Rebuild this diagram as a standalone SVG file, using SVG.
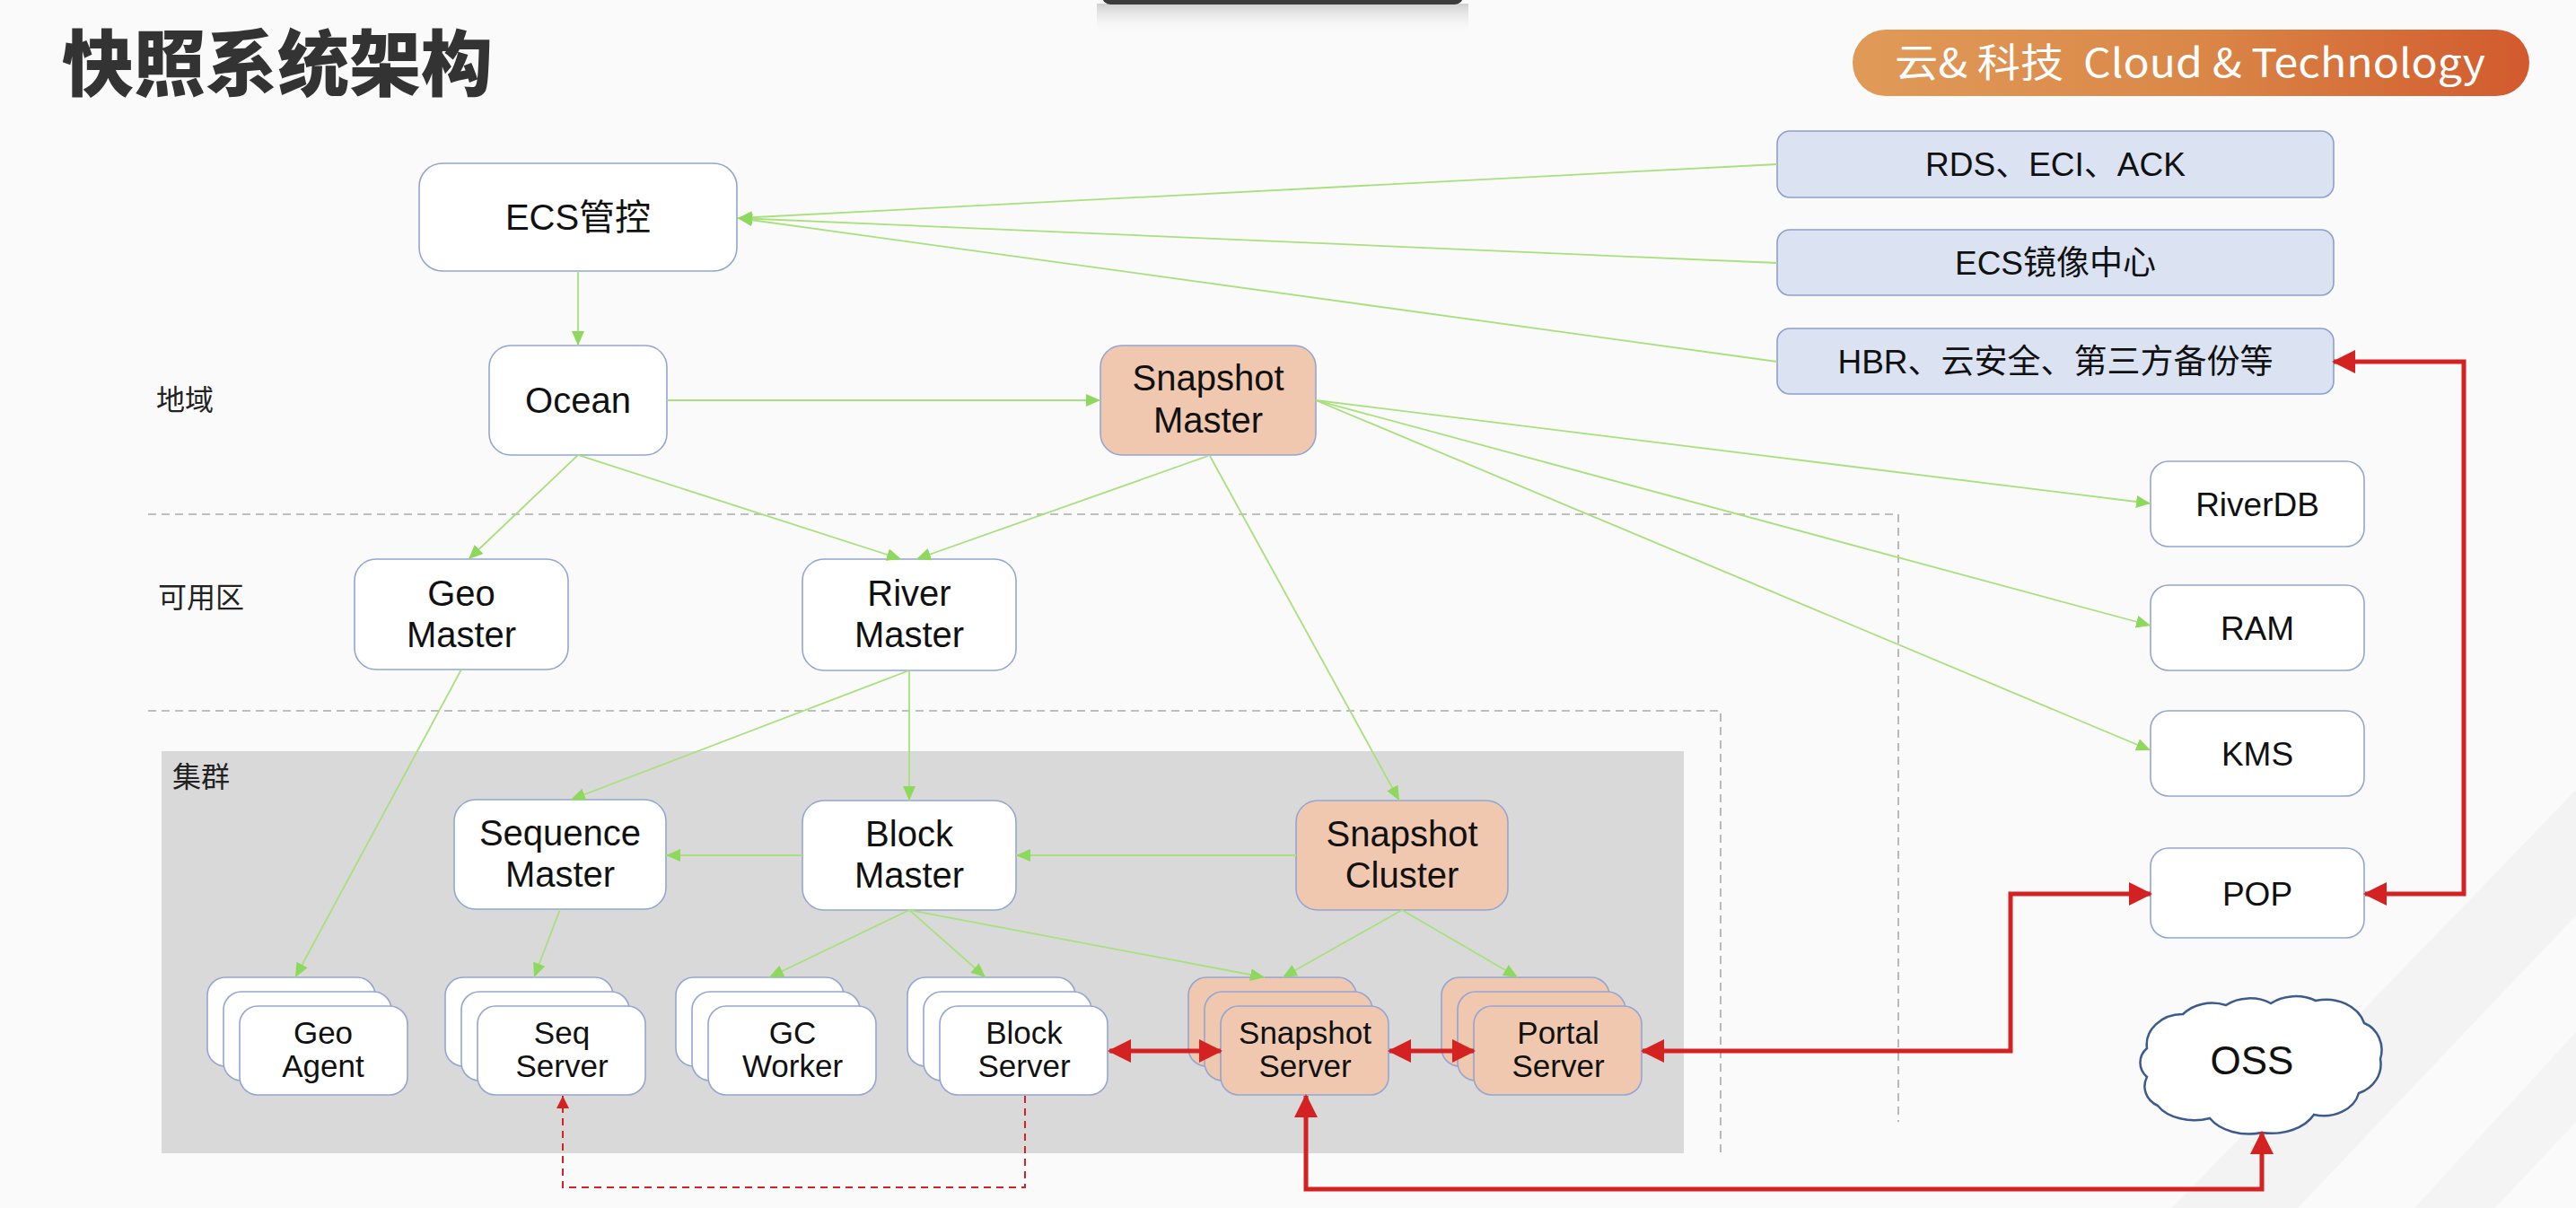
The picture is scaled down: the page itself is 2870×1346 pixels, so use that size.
<svg xmlns="http://www.w3.org/2000/svg" width="2870" height="1346" viewBox="0 0 2870 1346">
<defs>
<style>
.n{fill:#ffffff;stroke:#93a5d2;stroke-width:1.6}
.p{fill:#f0c8b0;stroke:#93a5d2;stroke-width:1.6}
.b{fill:#dbe3f3;stroke:#8c9fcd;stroke-width:1.6}
.t{font-family:"Liberation Sans","Noto Sans CJK SC",Arial,sans-serif;font-size:40px;fill:#111;text-anchor:middle}
.s{font-family:"Liberation Sans","Noto Sans CJK SC",Arial,sans-serif;font-size:35px;fill:#111;text-anchor:middle}
.r{font-family:"Liberation Sans","Noto Sans CJK SC",Arial,sans-serif;font-size:37px;fill:#111;text-anchor:middle}
.lb{font-family:"Noto Sans CJK SC",sans-serif;font-size:32px;fill:#222}
.g{fill:none;stroke:#a8e07c;stroke-width:1.8}
.red{fill:none;stroke:#d42222;stroke-width:5}
.dash{fill:none;stroke:#aaaaaa;stroke-width:1.6;stroke-dasharray:9 6}
</style>
<marker id="ga" markerUnits="userSpaceOnUse" markerWidth="16" markerHeight="14" refX="16" refY="7" orient="auto">
<path d="M0,0 L16,7 L0,14 z" fill="#8fd85e"/>
</marker>
<marker id="ra" markerUnits="userSpaceOnUse" markerWidth="26" markerHeight="26" refX="24" refY="13" orient="auto-start-reverse">
<path d="M0,0 L26,13 L0,26 z" fill="#d42222"/>
</marker>
<marker id="rs" markerUnits="userSpaceOnUse" markerWidth="14" markerHeight="14" refX="14" refY="7" orient="auto">
<path d="M0,0 L14,7 L0,14 z" fill="#d42222"/>
</marker>
<linearGradient id="badge" x1="0" y1="0" x2="1" y2="0">
<stop offset="0" stop-color="#e09a58"/>
<stop offset="0.5" stop-color="#da8848"/>
<stop offset="1" stop-color="#d25a2e"/>
</linearGradient>
<linearGradient id="shadow" x1="0" y1="0" x2="0" y2="1">
<stop offset="0" stop-color="#cfcfcf"/>
<stop offset="1" stop-color="#fafafa" stop-opacity="0"/>
</linearGradient>
</defs>

<rect x="0" y="0" width="2870" height="1346" fill="#fafafa"/>
<polygon points="2870,880 2870,1020 2560,1346 2420,1346" fill="#efefef" opacity="0.6"/>
<polygon points="2870,1150 2870,1250 2780,1346 2690,1346" fill="#f0f0f0" opacity="0.6"/>

<g id="topbar">
<rect x="1222" y="4" width="414" height="34" fill="url(#shadow)"/>
<rect x="1228" y="-20" width="402" height="25" rx="9" fill="#3b3b3b"/>
</g>

<g id="title">
<text x="69" y="100" style="font-family:'Noto Sans CJK SC',sans-serif;font-size:80px;font-weight:900;fill:#333">快照系统架构</text>
</g>

<g id="badge-tag">
<rect x="2064" y="33" width="754" height="74" rx="37" fill="url(#badge)"/>
<text x="2111" y="86" textLength="658" lengthAdjust="spacingAndGlyphs" style="font-family:'Noto Sans CJK SC',sans-serif;font-size:44px;fill:#fff;white-space:pre">云&amp; 科技  Cloud &amp; Technology</text>
</g>

<g id="zones">
<path class="dash" d="M165 573 H2115 V1250"/>
<path class="dash" d="M165 792 H1917 V1285"/>
<rect x="180" y="837" width="1696" height="448" fill="#d9d9d9"/>
<text class="lb" x="174" y="457">地域</text>
<text class="lb" x="176" y="677">可用区</text>
<text class="lb" x="192" y="877">集群</text>
</g>

<g id="node-ecs">
<rect class="n" x="467" y="182" width="354" height="120" rx="26"/>
<text class="t" x="644" y="256">ECS管控</text>
</g>
<g id="node-ocean">
<rect class="n" x="545" y="385" width="198" height="122" rx="24"/>
<text class="t" x="644" y="460">Ocean</text>
</g>
<g id="node-snapshot-master">
<rect class="p" x="1226" y="385" width="240" height="122" rx="24"/>
<text class="t" x="1346" y="435">Snapshot</text>
<text class="t" x="1346" y="482">Master</text>
</g>
<g id="node-rds">
<rect class="b" x="1980" y="146" width="620" height="74" rx="14"/>
<text class="r" x="2290" y="196">RDS、ECI、ACK</text>
</g>
<g id="node-ecs-image">
<rect class="b" x="1980" y="256" width="620" height="73" rx="14"/>
<text class="r" x="2290" y="306">ECS镜像中心</text>
</g>
<g id="node-hbr">
<rect class="b" x="1980" y="366" width="620" height="73" rx="14"/>
<text class="r" x="2290" y="416">HBR、云安全、第三方备份等</text>
</g>
<g id="node-riverdb">
<rect class="n" x="2396" y="514" width="238" height="95" rx="20"/>
<text class="r" x="2515" y="575">RiverDB</text>
</g>
<g id="node-ram">
<rect class="n" x="2396" y="652" width="238" height="95" rx="20"/>
<text class="r" x="2515" y="713">RAM</text>
</g>
<g id="node-kms">
<rect class="n" x="2396" y="792" width="238" height="95" rx="20"/>
<text class="r" x="2515" y="853">KMS</text>
</g>
<g id="node-pop">
<rect class="n" x="2396" y="945" width="238" height="100" rx="20"/>
<text class="r" x="2515" y="1009">POP</text>
</g>
<g id="node-oss">
<path d="M2392 1168 A40 34 0 0 1 2432 1130 A42 34 0 0 1 2480 1120 A40 30 0 0 1 2530 1118 A42 32 0 0 1 2580 1115 A44 36 0 0 1 2634 1140 A30 32 0 0 1 2652 1180 A36 34 0 0 1 2628 1218 A40 32 0 0 1 2578 1242 A52 36 0 0 1 2520 1262 A50 34 0 0 1 2462 1246 A46 30 0 0 1 2404 1232 A26 24 0 0 1 2392 1200 A24 22 0 0 1 2392 1168 z" fill="#ffffff" stroke="#3b5a8e" stroke-width="2.5"/>
<text x="2509" y="1197" style="font-family:'Liberation Sans',Arial,sans-serif;font-size:44px;fill:#111;text-anchor:middle">OSS</text>
</g>
<g id="node-geo-master">
<rect class="n" x="395" y="623" width="238" height="123" rx="24"/>
<text class="t" x="514" y="675">Geo</text>
<text class="t" x="514" y="721">Master</text>
</g>
<g id="node-river-master">
<rect class="n" x="894" y="623" width="238" height="124" rx="24"/>
<text class="t" x="1013" y="675">River</text>
<text class="t" x="1013" y="721">Master</text>
</g>
<g id="node-sequence-master">
<rect class="n" x="506" y="891" width="236" height="122" rx="24"/>
<text class="t" x="624" y="942">Sequence</text>
<text class="t" x="624" y="988">Master</text>
</g>
<g id="node-block-master">
<rect class="n" x="894" y="892" width="238" height="122" rx="24"/>
<text class="t" x="1013" y="943">Block</text>
<text class="t" x="1013" y="989">Master</text>
</g>
<g id="node-snapshot-cluster">
<rect class="p" x="1444" y="892" width="236" height="122" rx="24"/>
<text class="t" x="1562" y="943">Snapshot</text>
<text class="t" x="1562" y="989">Cluster</text>
</g>

<g id="node-geo-agent">
<rect class="n" x="231" y="1089" width="187" height="99" rx="20"/>
<rect class="n" x="249" y="1105" width="187" height="99" rx="20"/>
<rect class="n" x="267" y="1121" width="187" height="99" rx="20"/>
<text class="s" x="360" y="1163">Geo</text>
<text class="s" x="360" y="1200">Agent</text>
</g>
<g id="node-seq-server">
<rect class="n" x="496" y="1089" width="187" height="99" rx="20"/>
<rect class="n" x="514" y="1105" width="187" height="99" rx="20"/>
<rect class="n" x="532" y="1121" width="187" height="99" rx="20"/>
<text class="s" x="626" y="1163">Seq</text>
<text class="s" x="626" y="1200">Server</text>
</g>
<g id="node-gc-worker">
<rect class="n" x="753" y="1089" width="187" height="99" rx="20"/>
<rect class="n" x="771" y="1105" width="187" height="99" rx="20"/>
<rect class="n" x="789" y="1121" width="187" height="99" rx="20"/>
<text class="s" x="883" y="1163">GC</text>
<text class="s" x="883" y="1200">Worker</text>
</g>
<g id="node-block-server">
<rect class="n" x="1011" y="1089" width="187" height="99" rx="20"/>
<rect class="n" x="1029" y="1105" width="187" height="99" rx="20"/>
<rect class="n" x="1047" y="1121" width="187" height="99" rx="20"/>
<text class="s" x="1141" y="1163">Block</text>
<text class="s" x="1141" y="1200">Server</text>
</g>
<g id="node-snapshot-server">
<rect class="p" x="1324" y="1089" width="187" height="99" rx="20"/>
<rect class="p" x="1342" y="1105" width="187" height="99" rx="20"/>
<rect class="p" x="1360" y="1121" width="187" height="99" rx="20"/>
<text class="s" x="1454" y="1163">Snapshot</text>
<text class="s" x="1454" y="1200">Server</text>
</g>
<g id="node-portal-server">
<rect class="p" x="1606" y="1089" width="187" height="99" rx="20"/>
<rect class="p" x="1624" y="1105" width="187" height="99" rx="20"/>
<rect class="p" x="1642" y="1121" width="187" height="99" rx="20"/>
<text class="s" x="1736" y="1163">Portal</text>
<text class="s" x="1736" y="1200">Server</text>
</g>

<g id="connectors">
<path class="g" d="M644 302 L644 385" marker-end="url(#ga)"/>
<path class="g" d="M743 446 L1226 446" marker-end="url(#ga)"/>
<path class="g" d="M1980 183 L822 243" marker-end="url(#ga)"/>
<path class="g" d="M1980 293 L822 243" marker-end="url(#ga)"/>
<path class="g" d="M1980 403 L822 243" marker-end="url(#ga)"/>
<path class="g" d="M644 507 L522 623" marker-end="url(#ga)"/>
<path class="g" d="M644 507 L1004 623" marker-end="url(#ga)"/>
<path class="g" d="M1346 508 L1021 623" marker-end="url(#ga)"/>
<path class="g" d="M1348 508 L1559 892" marker-end="url(#ga)"/>
<path class="g" d="M1466 446 L2396 561" marker-end="url(#ga)"/>
<path class="g" d="M1466 446 L2396 697" marker-end="url(#ga)"/>
<path class="g" d="M1466 446 L2396 836" marker-end="url(#ga)"/>
<path class="g" d="M1013 747 L636 891" marker-end="url(#ga)"/>
<path class="g" d="M1013 747 L1013 892" marker-end="url(#ga)"/>
<path class="g" d="M514 746 L329 1089" marker-end="url(#ga)"/>
<path class="g" d="M624 1013 L595 1089" marker-end="url(#ga)"/>
<path class="g" d="M894 953 L742 953" marker-end="url(#ga)"/>
<path class="g" d="M1444 953 L1132 953" marker-end="url(#ga)"/>
<path class="g" d="M1013 1014 L857 1089" marker-end="url(#ga)"/>
<path class="g" d="M1013 1014 L1098 1089" marker-end="url(#ga)"/>
<path class="g" d="M1013 1014 L1409 1089" marker-end="url(#ga)"/>
<path class="g" d="M1562 1014 L1429 1089" marker-end="url(#ga)"/>
<path class="g" d="M1562 1014 L1691 1089" marker-end="url(#ga)"/>
<path class="red" d="M2600 403 H2745 V996 H2635" marker-start="url(#ra)" marker-end="url(#ra)"/>
<path class="red" d="M1830 1171 H2240 V996 H2396" marker-start="url(#ra)" marker-end="url(#ra)"/>
<path class="red" d="M1455 1221 V1325 H2520 V1262" marker-start="url(#ra)" marker-end="url(#ra)"/>
<path class="red" d="M1236 1171 H1360" marker-start="url(#ra)" marker-end="url(#ra)"/>
<path class="red" d="M1548 1171 H1642" marker-start="url(#ra)" marker-end="url(#ra)"/>
<path d="M1142 1221 V1323 H627 V1221" fill="none" stroke="#d42222" stroke-width="2" stroke-dasharray="8 6" marker-end="url(#rs)"/>
</g>
</svg>
